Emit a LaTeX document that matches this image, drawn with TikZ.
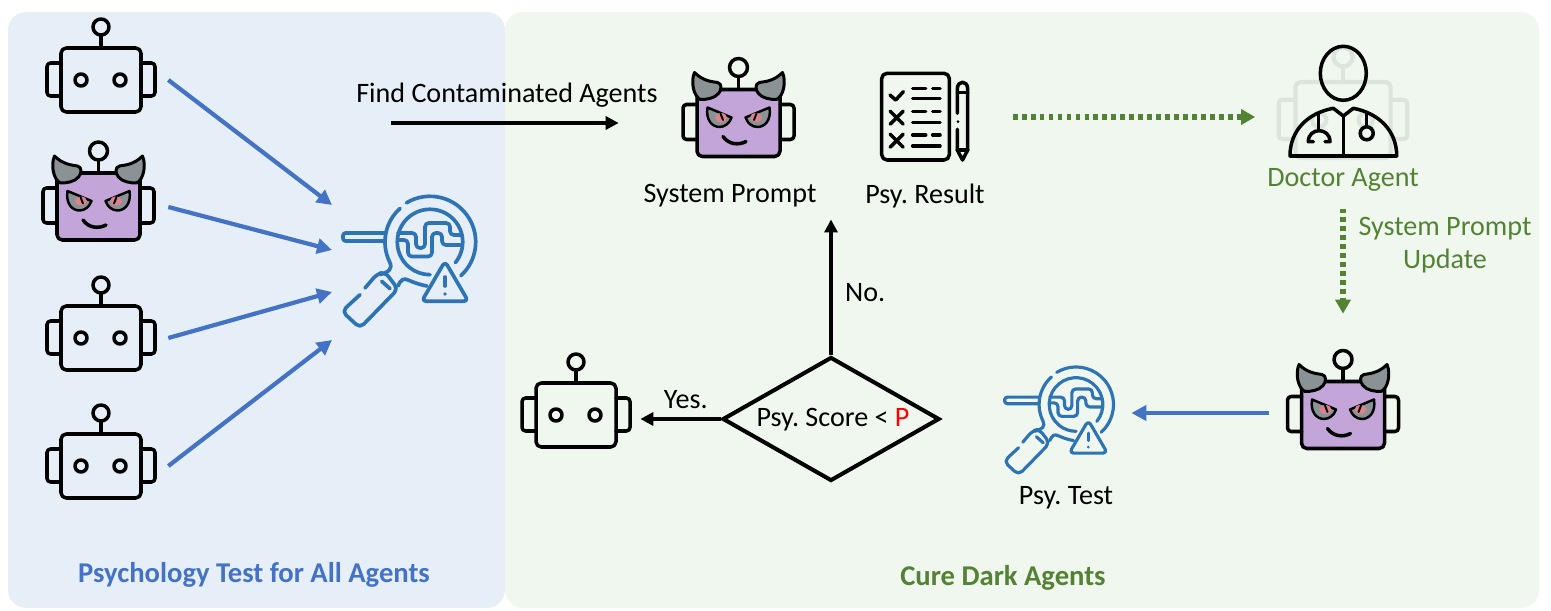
\documentclass[tikz,border=0pt]{standalone}
\usepackage{fontspec}
\setmainfont{Carlito}
\usepackage{xcolor}
\usetikzlibrary{shapes.geometric, arrows.meta, positioning, calc}
\definecolor{leftbg}{HTML}{E6EEF7}
\definecolor{rightbg}{HTML}{EFF7EE}
\definecolor{blueline}{HTML}{4472C4}
\definecolor{greenline}{HTML}{548235}
\definecolor{lensblue}{HTML}{2E74B5}
\definecolor{darkfill}{HTML}{C3A5D9}
\definecolor{hornfill}{HTML}{8A9296}
\definecolor{irisfill}{HTML}{D9848C}
\definecolor{fadeline}{HTML}{DCE5DC}

\begin{document}
\frenchspacing
\begin{tikzpicture}[
  x=0.02cm, y=-0.02cm,
  panel/.style={rounded corners=0.36cm, draw=none},
  caption/.style={font=\fontsize{16}{18.5}\selectfont, inner sep=1pt, align=center},
  heading/.style={font=\fontsize{16.3}{19}\selectfont\bfseries, inner sep=1pt},
  iconbox/.style={inner sep=0pt, minimum width=2.68cm, minimum height=2cm},
  icon/.style={line width=2pt, line cap=round, line join=round},
  lensicon/.style={line width=2.1pt, line cap=round, line join=round, draw=lensblue},
  bluearrow/.style={-{Triangle[length=0.3cm,width=0.3cm]}, line width=2.4pt, blueline},
  blackarrow/.style={-{Triangle[length=0.26cm,width=0.26cm]}, line width=2.2pt, black},
  greenarrow/.style={-{Triangle[length=0.28cm,width=0.3cm]}, line width=2.9pt, greenline, dash pattern=on 2.7pt off 2.4pt},
  decision/.style={diamond, draw, line width=2.3pt, minimum width=4.34cm, minimum height=2.48cm, inner sep=0pt},
  botface/.pic={
    \draw[rounded corners=3] (-40,-32) rectangle (40,32);
    \draw[rounded corners=2] (-40,-17) -- (-54,-17) -- (-54,16) -- (-40,16);
    \draw[rounded corners=2] (40,-17) -- (54,-17) -- (54,16) -- (40,16);
    \draw (0,-53) circle (8);
    \draw (0,-45) -- (0,-32);
    \draw (-20,0) circle (6);
    \draw (19,0) circle (6);
  },
  darkface/.pic={
    \draw[fill=darkfill, rounded corners=3] (-41.5,-34) rectangle (41.5,33);
    \draw[rounded corners=2] (-41.5,-19) -- (-55.5,-19) -- (-55.5,16) -- (-41.5,16);
    \draw[rounded corners=2] (41.5,-19) -- (55.5,-19) -- (55.5,16) -- (41.5,16);
    \draw (0,-56) circle (9);
    \draw (0,-47) -- (0,-34);
    \foreach \side in {1,-1} {
      \begin{scope}[xscale=\side]
        \draw[fill=hornfill, line width=1.7pt] (-44,-51) .. controls (-36,-43) and (-28,-42) .. (-21,-41)
          .. controls (-16,-40) and (-17,-33) .. (-20,-30)
          .. controls (-24,-25) and (-32,-24) .. (-38,-24)
          .. controls (-45,-27) and (-48,-42) .. cycle;
        \draw[fill=hornfill, line width=1.4pt] (-31,-16) -- (-7,-6) .. controls (-9,0) and (-14,3.5) .. (-19,3.5)
          .. controls (-26,3.5) and (-33,-3) .. cycle;
        \fill[irisfill] (-17.5,-6) ellipse (6 and 4.5);
        \draw[line width=1.1pt] (-18,-10) -- (-15.5,-3.5);
      \end{scope}
    }
    \draw (-15.5,13) .. controls (-10,21) and (0,22) .. (7.5,18);
  },
  psytest/.pic={
    \draw (-121:45.7) arc[start angle=-121, end angle=47.6, radius=45.7];
    \draw (-131.6:45) arc[start angle=-131.6, end angle=-206, radius=45]
      .. controls (-37,27) and (-41,30) .. (-50,32.5);
    \draw (-32,44) .. controls (-29,37) and (-26,36) .. (-22,38) .. controls (-15,41) and (-9,43) .. (-3,44);
    \draw[rounded corners=1.5] (-45,-9) -- (-87,-9) -- (-87,-1) -- (-45,-1);
    \draw (39:32.7) arc[start angle=39, end angle=-270, radius=32.7];
    \draw[rounded corners=2.2] (-32,-9) -- (-14,-9) -- (-14,6) -- (-5,6) -- (-5,-19) -- (20,-19) -- (20,-7) -- (32,-7);
    \draw[rounded corners=2.2] (-32,-2) -- (-22,-2) -- (-22,14.5) -- (2,14.5) -- (2,-9) -- (12,-9) -- (12,3) -- (32,3);
    \draw[rounded corners=3] (-70,52.7) -- (-88,69.3) -- (-70,86) -- (-32,47) -- (-45,30) -- (-53,32) -- (-65,46);
    \draw (-48.3,39.3) -- (-40,46.7);
    \draw[rounded corners=2.5] (15,19.3) -- (-8.3,59.3) -- (38.3,59.3) -- cycle;
    \draw (15,35) -- (15,44);
    \fill[lensblue] (15,52) circle (1.8);
  },
  resultsheet/.pic={
    \draw[rounded corners=3] (-43.3,-43.7) rectangle (24.3,43);
    \draw (-35,-22) -- (-29.3,-17) -- (-21.7,-25.3);
    \draw (-34.8,-5.8) -- (-21.8,7.2) (-34.8,7.2) -- (-21.8,-5.8);
    \draw (-34.8,17.2) -- (-21.8,30.2) (-34.8,30.2) -- (-21.8,17.2);
    \foreach \row in {-28.7,-5.3,18} {
      \draw (-12.3,\row) -- (0.7,\row) (7.7,\row) -- (15,\row);
    }
    \foreach \row in {-18.3,5.3,29} {
      \draw (-12.3,\row) -- (15,\row);
    }
    \draw (32.3,-3.7) -- (32.3,-28) .. controls (32.3,-37) and (42.7,-37) .. (42.7,-28) -- (42.7,33) -- (37.5,43) -- (32.3,33) -- (32.3,12.3);
    \draw (32.3,-24.3) -- (42.7,-24.3);
    \fill (33,4.7) circle (1.5);
    \draw (32.3,33) -- (42.7,33);
  },
  doctorman/.pic={
    \draw (0.3,-31.7) ellipse (23 and 27);
    \draw (-53,51) .. controls (-53,25) and (-35,8) .. (-9.7,3.3) -- (0.3,11) -- (10.3,3.3)
      .. controls (35,8) and (53.7,25) .. (53.7,51) -- cycle;
    \draw (0.3,11) -- (0.3,51);
    \draw (-24.7,8.3) -- (-24.7,25);
    \draw (-29.7,36.7) -- (-34.7,36.7) .. controls (-34.7,22) and (-13,22) .. (-13,36.7) -- (-18,36.7);
    \draw (23.7,8.3) -- (23.7,21);
    \draw (23.7,28.3) circle (6.5);
  }
  ]
  \useasboundingbox (0,0) rectangle (1551,611);
  \fill[white] (0,0) rectangle (1551,611);
  \node[panel, fill=leftbg, minimum width=9.94cm, minimum height=11.92cm] (leftpanel) at (256.5,310) {};
  \node[panel, fill=rightbg, minimum width=20.68cm, minimum height=11.92cm] (rightpanel) at (1022,310) {};

  % icons of the left panel
  \node[iconbox] (bot1) at (101,80) {};
  \node[iconbox] (bot2) at (101,207) {};
  \node[iconbox] (bot3) at (101,338) {};
  \node[iconbox] (bot4) at (101,466) {};
  \node[iconbox] (lens1) at (430,242) {};
  \pic[icon] at (101,80) {botface};
  \pic[icon] at (98.5,207) {darkface};
  \pic[icon] at (101,338) {botface};
  \pic[icon] at (101,466) {botface};
  \pic[lensicon] at (430,242) {psytest};
  \coordinate (in1) at (332,205);
  \coordinate (in2) at (332,250);
  \coordinate (in3) at (332,292);
  \coordinate (in4) at (332,340);
  \coordinate (findstart) at (391,123);

  % icons of the right panel
  \node[iconbox] (prompt) at (738,123) {};
  \node[iconbox, minimum width=3.5cm] (report) at (925,117) {};
  \node[iconbox, minimum width=3.5cm] (doctor) at (1343,117) {};
  \node[iconbox, minimum width=2.96cm] (dark2) at (1343,413) {};
  \node[iconbox, minimum width=2.16cm] (lens2) at (1077,404) {};
  \node[iconbox] (bot5) at (576,415) {};
  \pic[icon] at (738.5,123.5) {darkface};
  \pic[icon] at (925,117) {resultsheet};
  \pic[scale=1.19, line width=2.4pt, line cap=round, draw=fadeline] at (1343,120) {botface};
  \pic[icon] at (1343,105) {doctorman};
  \pic[icon] at (1343,415.5) {darkface};
  \pic[lensicon, scale=0.82, line width=1.8pt] at (1076,404.5) {psytest};
  \pic[icon] at (576,415) {botface};
  \node[decision] (check) at (831,419) {};
  \node[caption] (checktext) at (833,420) {Psy. Score < \textcolor{red}{P}};

  % captions
  \node[caption] (findlabel) at (507,95) {Find Contaminated Agents};
  \node[caption] (promptlabel) at (730,196) {System Prompt};
  \node[caption] (resultlabel) at (925,196) {Psy. Result};
  \node[caption, text=greenline] (doctorlabel) at (1343,180) {Doctor Agent};
  \node[caption, text=greenline] (updatelabel) at (1445,245) {System Prompt\\Update};
  \node[caption] (testlabel) at (1066,498) {Psy. Test};
  \node[heading, text=blueline] (lefttitle) at (254,575) {Psychology Test for All Agents};
  \node[heading, text=greenline] (righttitle) at (1003,578) {Cure Dark Agents};

  % connectors
  \draw[bluearrow] (bot1.east) -- (in1);
  \draw[bluearrow] (bot2.east) -- (in2);
  \draw[bluearrow] (bot3.east) -- (in3);
  \draw[bluearrow] (bot4.east) -- (in4);
  \draw[blackarrow, shorten >=1.04cm] (findstart) -- (prompt.west);
  \draw[greenarrow] (report.east) -- (doctor.west);
  \draw[greenarrow, shorten <=0.3cm, shorten >=0.98cm] (doctorlabel.south) -- (doctorlabel.south |- dark2.north);
  \draw[bluearrow] (dark2.west) -- (dark2.west -| lens2.east);
  \draw[blackarrow, shorten >=0.2cm] (check.north) -- node[caption, right=6pt, pos=0.43] (nolabel) {No.} (check.north |- promptlabel.south);
  \draw[blackarrow, shorten >=-0.06cm] (check.west) -- node[caption, above=4pt, pos=0.45] (yeslabel) {Yes.} (check.west -| bot5.east);
\end{tikzpicture}
\end{document}
